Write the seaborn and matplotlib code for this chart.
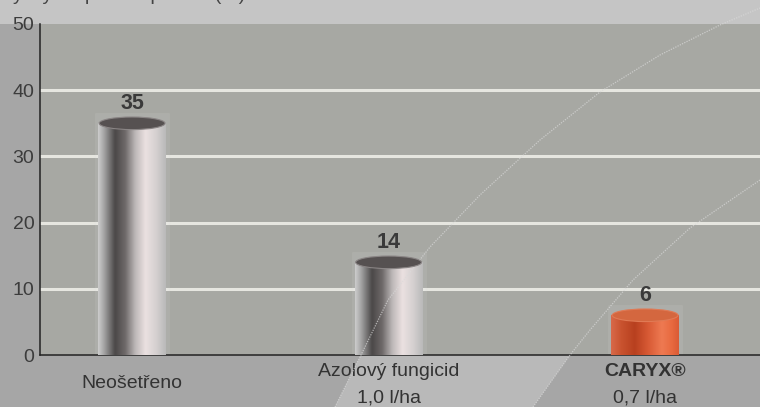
import numpy as np
import pandas as pd
import matplotlib
matplotlib.use("Agg")
import matplotlib.pyplot as plt
import seaborn as sns
from matplotlib.colors import LinearSegmentedColormap
from matplotlib.patches import Ellipse, Rectangle, Polygon
from matplotlib.transforms import blended_transform_factory

# data
categories = ["Neošetřeno", "Azolový fungicid", "CARYX"]
values = [35, 14, 6]
label_line1 = ["", "Azolový fungicid", "CARYX®"]
label_line2 = ["", "1,0 l/ha", "0,7 l/ha"]
label_single = ["Neošetřeno", "", ""]
y_ticks = [0, 10, 20, 30, 40, 50]
title = "Výskyt napadení padlím (%)"

FONT = ["Liberation Sans", "DejaVu Sans"]
sns.set_style("white")
plt.rcParams["font.family"] = FONT

gray_cmap = LinearSegmentedColormap.from_list("cyl_gray", [
    (0.00, "#cdcdcd"), (0.08, "#a9a9a9"), (0.25, "#4b4848"), (0.40, "#6e6969"),
    (0.55, "#bdb8b8"), (0.70, "#ebe1e1"), (0.86, "#d5d0d0"), (1.00, "#b9b9b9")])
red_cmap = LinearSegmentedColormap.from_list("cyl_red", [
    (0.00, "#d86a4a"), (0.15, "#c9532f"), (0.35, "#b8401f"), (0.55, "#d85a35"),
    (0.75, "#ee7a52"), (0.90, "#e8693f"), (1.00, "#d95a35")])

fig = plt.figure(figsize=(7.6, 4.07), dpi=100)
fig.patch.set_facecolor("#a6a6a6")

# light strip behind the top title
fig.patches.append(Rectangle((0, 0.941), 1, 0.06, transform=fig.transFigure,
                             facecolor="#c5c5c5", edgecolor="none", zorder=-5))
# light swoosh band below the axis
band = np.array([[335, 407], [361, 355], [570, 355], [533, 407]], dtype=float)
band[:, 0] /= 760
band[:, 1] = 1 - band[:, 1] / 407
fig.patches.append(Polygon(band, closed=True, transform=fig.transFigure,
                           facecolor="#b9b9b9", edgecolor="none", zorder=-5))

ax = fig.add_axes([40 / 760, (407 - 355) / 407, 720 / 760, (355 - 24) / 407])
ax.set_facecolor("#a7a8a3")

df = pd.DataFrame({"cat": categories, "val": values})
sns.barplot(data=df, x="cat", y="val", width=0.265, color="#888888", ax=ax,
            zorder=3, errorbar=None)

ax.set_ylim(0, 49.5)
ax.set_xlim(-0.359, 2.448)

# cylinder look on each bar
grad = np.linspace(0, 1, 256).reshape(1, -1)
ell_h = 1.9
for i, p in enumerate(ax.patches):
    x, w, h = p.get_x(), p.get_width(), p.get_height()
    cmap = red_cmap if i == 2 else gray_cmap
    p.set_facecolor("none")
    p.set_edgecolor("none")
    im = ax.imshow(grad, cmap=cmap, aspect="auto", extent=[x, x + w, 0, h],
                   zorder=3, interpolation="bicubic")
    im.set_clip_path(p)
    top_col = "#d4673f" if i == 2 else "#565151"
    rim = "#e07a55" if i == 2 else "#8a8585"
    ax.add_patch(Ellipse((x + w / 2, h), w * 0.97, ell_h, facecolor=top_col,
                         edgecolor=rim, lw=0.8, zorder=4))
    # faint glass box around the bar
    pad = 0.012
    ax.add_patch(Rectangle((x - pad, 0), w + 2 * pad, h + 1.6, facecolor="white",
                           alpha=0.08, edgecolor="#d8d8d8", lw=0.8, zorder=2.5))

ax.bar_label(ax.containers[0], labels=[str(v) for v in values], padding=7,
             fontsize=15.5, fontweight="bold", color="#3a3a3a", zorder=6)
ax.set_xlim(-0.359, 2.448)
ax.set_ylim(0, 49.5)

# grid
ax.set_yticks(y_ticks)
ax.set_yticklabels([str(t) for t in y_ticks], fontsize=14, color="#3c3c3c")
for t in y_ticks[1:-1]:
    ax.axhline(t, color="#e6e6e0", lw=2.2, zorder=1)
ax.tick_params(axis="y", length=0, pad=4)

# x axis: tick marks at quarter divisions, labels placed by hand
x0, x1 = ax.get_xlim()
ax.set_xticks([x0 + k * (x1 - x0) / 4 for k in range(4)])
ax.set_xticklabels([])
ax.tick_params(axis="x", length=9, width=1, color="#222222", direction="out")
ax.set_xlabel("")
ax.set_ylabel("")

for side in ["top", "right"]:
    ax.spines[side].set_visible(False)
for side in ["left", "bottom"]:
    ax.spines[side].set_color("#222222")
    ax.spines[side].set_linewidth(1.1)

trans = blended_transform_factory(ax.transData, fig.transFigure)
for i in range(len(categories)):
    if label_single[i]:
        ax.text(i, 1 - 384 / 407, label_single[i], transform=trans, ha="center",
                va="center", fontsize=14, color="#333333", clip_on=False)
    if label_line1[i]:
        ax.text(i, 1 - 372 / 407, label_line1[i], transform=trans, ha="center",
                va="center", fontsize=14, color="#333333", clip_on=False,
                fontweight="bold" if i == 2 else "normal")
        ax.text(i, 1 - 398 / 407, label_line2[i], transform=trans, ha="center",
                va="center", fontsize=14, color="#333333", clip_on=False)

# faint swoosh lines across the plot
pts_a = np.array([[335, 407], [361, 355], [388, 300], [430, 247], [480, 195],
                  [540, 140], [600, 92], [660, 55], [720, 25], [760, 8]],
                 dtype=float)
pts_b = np.array([[533, 407], [570, 355], [590, 330], [633, 280], [690, 228],
                  [760, 180]], dtype=float)
for pts in (pts_a, pts_b):
    ax.plot(pts[:, 0] / 760, 1 - pts[:, 1] / 407, transform=fig.transFigure,
            color="#dadada", lw=0.9, alpha=0.7, ls=(0, (1, 1)), zorder=3.5,
            clip_on=False)

# clipped title at the very top
fig.text(0.0, 1.012, title, ha="left", va="center", fontsize=14, color="#444444")

fig.savefig("out.png", dpi=100, facecolor=fig.get_facecolor())
